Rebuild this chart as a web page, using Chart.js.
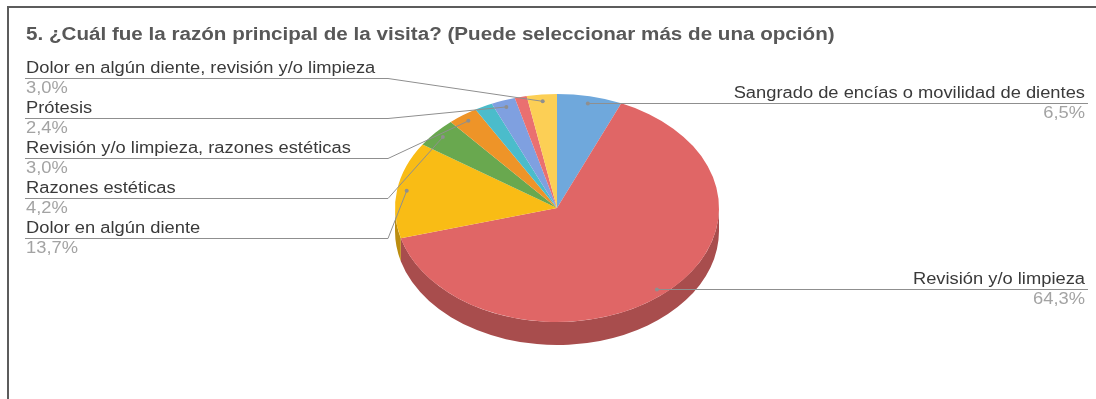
<!DOCTYPE html>
<html>
<head>
<meta charset="utf-8">
<script src="https://cdn.jsdelivr.net/npm/chart.js@4.4.0/dist/chart.umd.min.js"></script>
<style>
    html, body { margin: 0; padding: 0; background: #fff; overflow: hidden; }
    #grafico { position: absolute; left: 0; top: 0; }
    #marco {
        position: absolute; left: 7px; top: 6px; width: 1100px; height: 400px;
        border-left: 2px solid #5c5c5c; border-top: 2px solid #5c5c5c;
        pointer-events: none;
    }
</style>
</head>
<body>
<canvas id="grafico" width="1096" height="399"></canvas>
<div id="marco"></div>
<script>
const titulo = '5. ¿Cuál fue la razón principal de la visita? (Puede seleccionar más de una opción)';

const categorias = [
    'Sangrado de encías o movilidad de dientes',
    'Revisión y/o limpieza',
    'Dolor en algún diente',
    'Razones estéticas',
    'Revisión y/o limpieza, razones estéticas',
    'Otros motivos',
    'Prótesis',
    'Otras combinaciones',
    'Dolor en algún diente, revisión y/o limpieza'
];
const porcentajes = [6.5, 64.3, 13.7, 4.2, 3.0, 1.8, 2.4, 1.2, 3.0];
const colores = ['#6fa8dc', '#e06666', '#f9bc15', '#69a84f', '#ee9428', '#4bbccb', '#7fa0e0', '#ea7070', '#fccf55'];

// Porciones menores a esto no llevan etiqueta
const MINIMO_ETIQUETA = 2;
// Aplastamiento vertical y grosor del pastel
const ACHATADO = 114 / 162;
const PROFUNDIDAD = 23;

const FUENTE = '"Liberation Sans", Arial, sans-serif';
// Los textos van algo más anchos que la fuente normal
const ESTIRADO = 1.145;

function oscurecer(hex, f) {
    const n = parseInt(hex.slice(1), 16);
    const r = Math.round(((n >> 16) & 255) * f);
    const g = Math.round(((n >> 8) & 255) * f);
    const b = Math.round((n & 255) * f);
    return `rgb(${r},${g},${b})`;
}

function formatear(valor) {
    return valor.toFixed(1).replace('.', ',') + '%';
}

function escribir(ctx, texto, x, y) {
    ctx.save();
    ctx.translate(x, y);
    ctx.scale(ESTIRADO, 1);
    ctx.fillText(texto, 0, 0);
    ctx.restore();
}

function dibujarEtiqueta(ctx, texto, valor, x, base, alinear) {
    ctx.textAlign = alinear;
    ctx.font = '16px ' + FUENTE;
    ctx.fillStyle = '#3a3a3a';
    escribir(ctx, texto, x, base);
    ctx.fillStyle = '#a3a3a3';
    escribir(ctx, formatear(valor), x, base + 20);
}

function dibujarGuia(ctx, puntos) {
    ctx.beginPath();
    ctx.moveTo(puntos[0][0], puntos[0][1]);
    puntos.slice(1).forEach(p => ctx.lineTo(p[0], p[1]));
    ctx.stroke();
    const fin = puntos[puntos.length - 1];
    ctx.beginPath();
    ctx.arc(fin[0], fin[1], 2, 0, Math.PI * 2);
    ctx.fill();
}

const pastel3D = {
    id: 'pastel3D',
    beforeDatasetsDraw(chart) {
        const ctx = chart.ctx;
        const arcos = chart.getDatasetMeta(0).data;
        const { x, y } = arcos[0];
        ctx.save();
        ctx.translate(x, y);
        ctx.scale(1, ACHATADO);
        ctx.translate(-x, -y);

        // Pared lateral: sólo la mitad delantera del pastel
        const d = PROFUNDIDAD / ACHATADO;
        arcos.forEach((arco, i) => {
            const a0 = Math.max(arco.startAngle, 0);
            const a1 = Math.min(arco.endAngle, Math.PI);
            if (a1 <= a0) return;
            const r = arco.outerRadius;
            ctx.beginPath();
            ctx.arc(x, y, r, a0, a1);
            ctx.arc(x, y + d, r, a1, a0, true);
            ctx.closePath();
            ctx.fillStyle = oscurecer(colores[i], 0.75);
            ctx.fill();
        });
    },
    afterDatasetsDraw(chart) {
        chart.ctx.restore();
    },
    afterDraw(chart) {
        const ctx = chart.ctx;
        const arcos = chart.getDatasetMeta(0).data;

        ctx.save();
        ctx.textBaseline = 'alphabetic';
        ctx.textAlign = 'left';
        ctx.font = 'bold 18px ' + FUENTE;
        ctx.fillStyle = '#585858';
        escribir(ctx, titulo, 26, 40);

        const izquierda = [];
        const derecha = [];
        arcos.forEach((arco, i) => {
            if (porcentajes[i] < MINIMO_ETIQUETA) return;
            const medio = (arco.startAngle + arco.endAngle) / 2;
            const ax = arco.x + arco.outerRadius * 0.94 * Math.cos(medio);
            const ay = arco.y + arco.outerRadius * ACHATADO * 0.94 * Math.sin(medio);
            (ax < arco.x ? izquierda : derecha).push({ i, ax, ay });
        });
        izquierda.sort((a, b) => a.ay - b.ay);

        ctx.lineWidth = 1;
        ctx.strokeStyle = '#8f8f8f';

        izquierda.forEach((e, n) => {
            const base = 73 + n * 40;
            const linea = base + 5.5;
            dibujarEtiqueta(ctx, categorias[e.i], porcentajes[e.i], 26, base, 'left');
            ctx.fillStyle = '#8f8f8f';
            dibujarGuia(ctx, [[25, linea], [388, linea], [e.ax, e.ay]]);
        });

        derecha.forEach(e => {
            const linea = Math.round(e.ay) + 0.5;
            dibujarEtiqueta(ctx, categorias[e.i], porcentajes[e.i], 1085, linea - 6, 'right');
            ctx.fillStyle = '#8f8f8f';
            dibujarGuia(ctx, [[1088, linea], [e.ax, linea]]);
        });
        ctx.restore();
    }
};

new Chart(document.getElementById('grafico'), {
    type: 'pie',
    data: {
        labels: categorias,
        datasets: [{
            data: porcentajes,
            backgroundColor: colores,
            borderWidth: 0,
            clip: false
        }]
    },
    options: {
        responsive: false,
        devicePixelRatio: 1,
        animation: false,
        layout: { padding: { left: 395, right: 377, top: 46, bottom: 29 } },
        plugins: {
            legend: { display: false },
            tooltip: { enabled: false }
        }
    },
    plugins: [pastel3D]
});
</script>
</body>
</html>
